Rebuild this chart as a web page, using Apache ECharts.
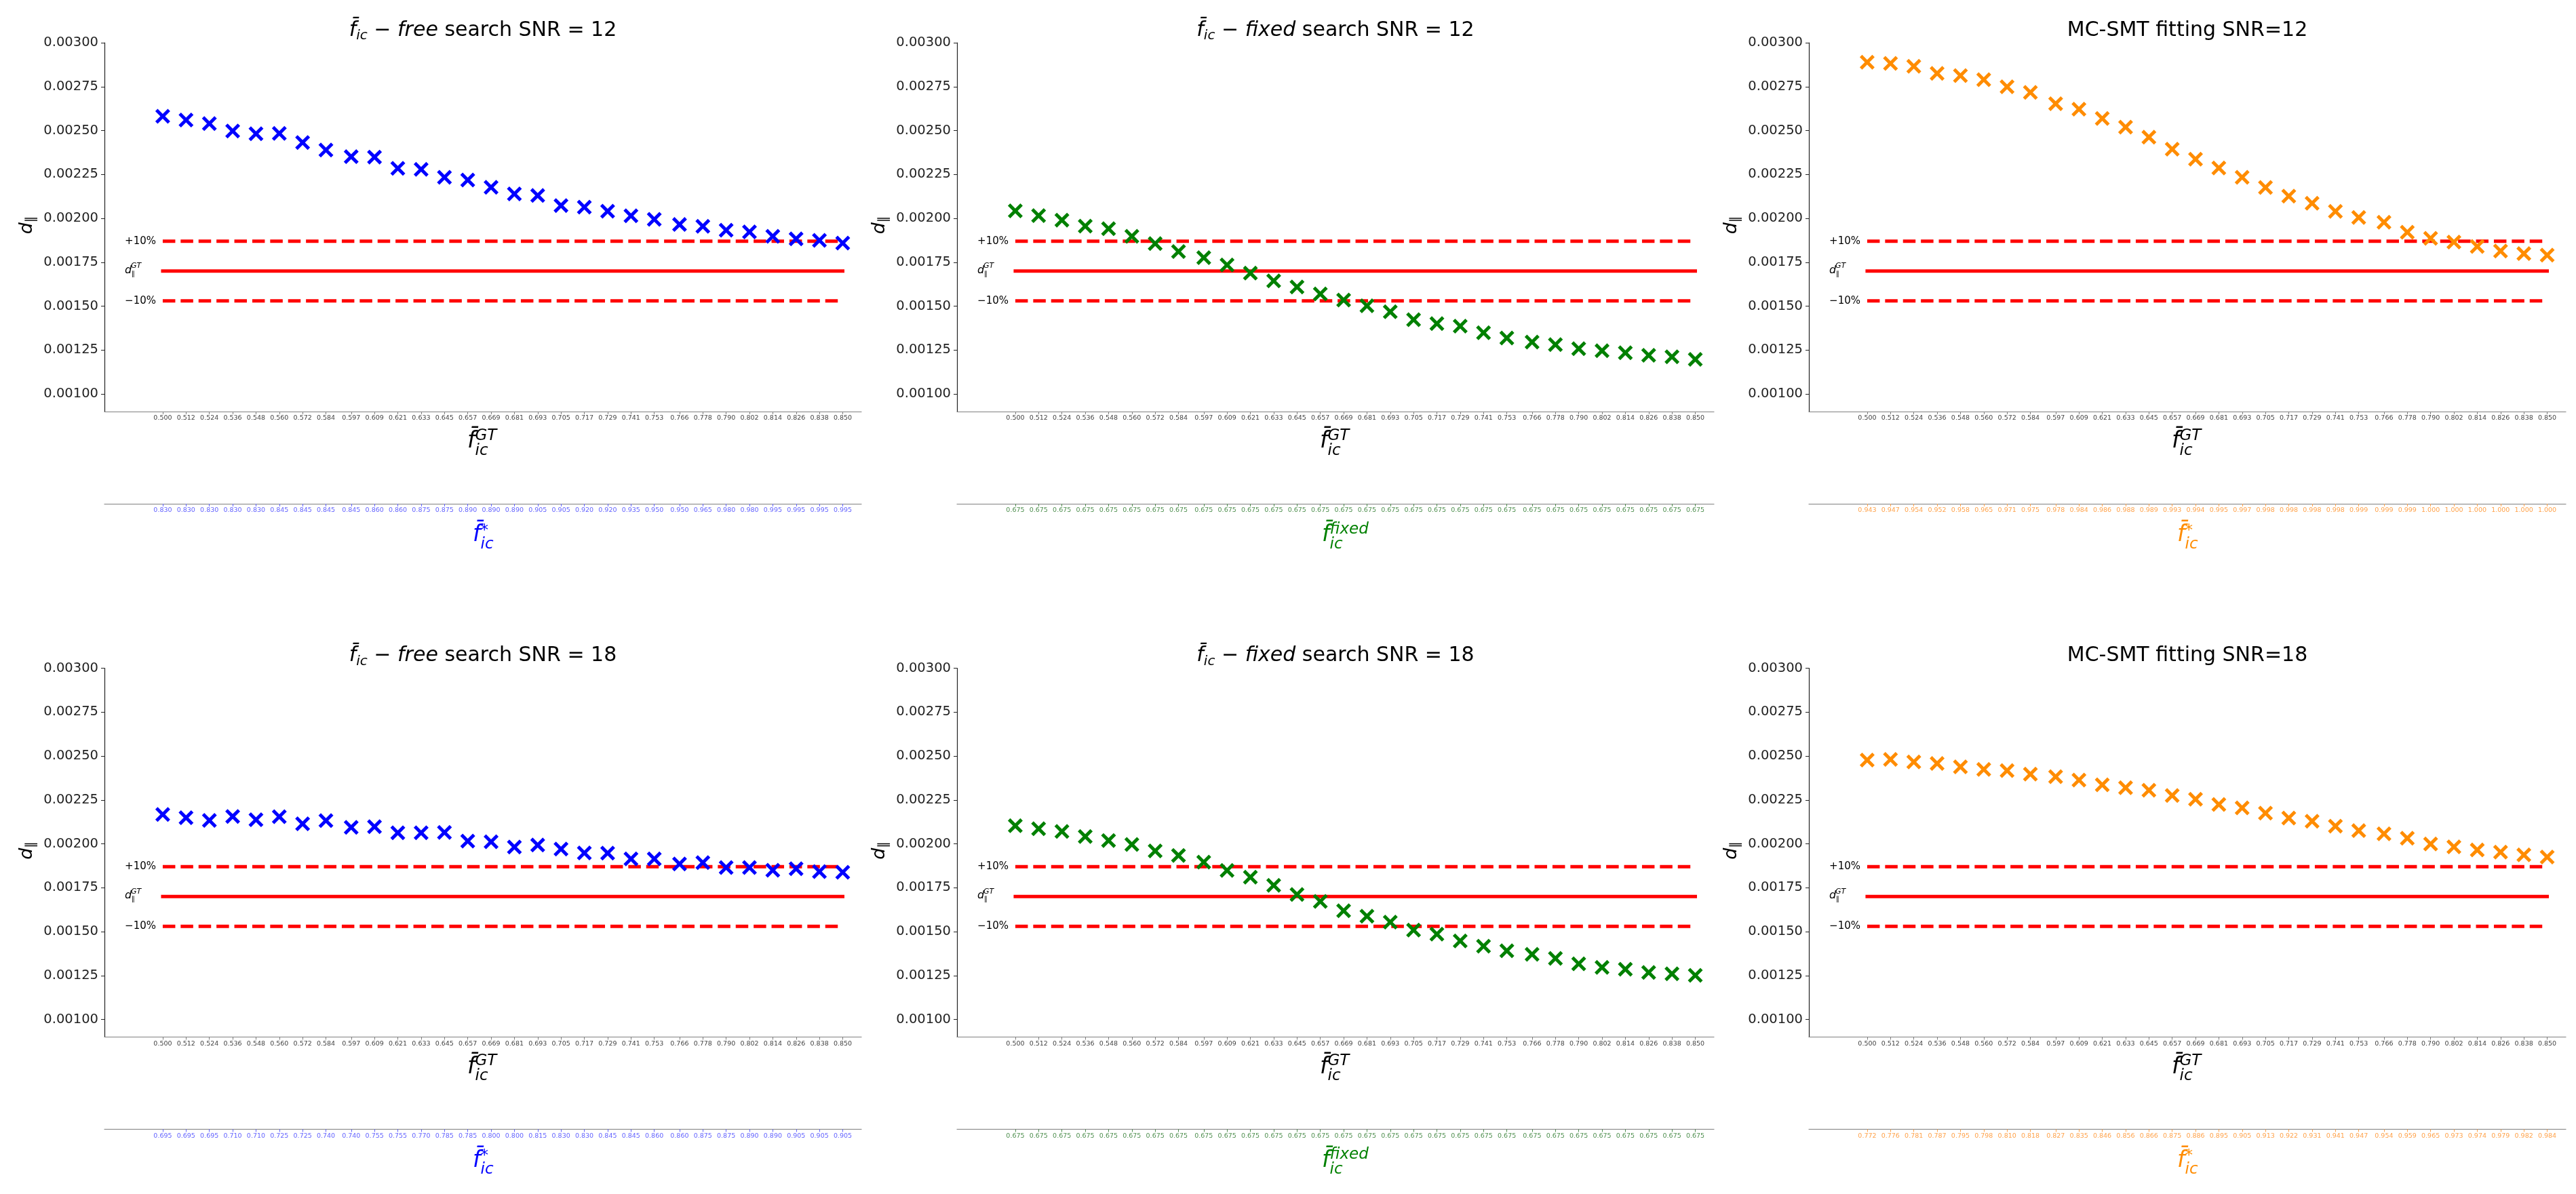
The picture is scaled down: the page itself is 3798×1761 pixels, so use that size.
<!DOCTYPE html>
<html>
<head>
<meta charset="utf-8">
<script src="https://cdn.jsdelivr.net/npm/echarts@6/dist/echarts.min.js"></script>
<style>
html, body { margin: 0; padding: 0; background: #fff; }
#main { width: 3798px; height: 1761px; }
</style>
</head>
<body>
<div id="main"></div>
<script>
// ground-truth f_ic values (primary x ticks)
var fGT = ['0.500','0.512','0.524','0.536','0.548','0.560','0.572','0.584','0.597','0.609','0.621','0.633','0.645','0.657','0.669','0.681','0.693','0.705','0.717','0.729','0.741','0.753','0.766','0.778','0.790','0.802','0.814','0.826','0.838','0.850'];

// secondary axis tick labels
var fStarFree12 = ['0.830','0.830','0.830','0.830','0.830','0.845','0.845','0.845','0.845','0.860','0.860','0.875','0.875','0.890','0.890','0.890','0.905','0.905','0.920','0.920','0.935','0.950','0.950','0.965','0.980','0.980','0.995','0.995','0.995','0.995'];
var fFixed12 = ['0.675','0.675','0.675','0.675','0.675','0.675','0.675','0.675','0.675','0.675','0.675','0.675','0.675','0.675','0.675','0.675','0.675','0.675','0.675','0.675','0.675','0.675','0.675','0.675','0.675','0.675','0.675','0.675','0.675','0.675'];
var fStarMC12 = ['0.943','0.947','0.954','0.952','0.958','0.965','0.971','0.975','0.978','0.984','0.986','0.988','0.989','0.993','0.994','0.995','0.997','0.998','0.998','0.998','0.998','0.999','0.999','0.999','1.000','1.000','1.000','1.000','1.000','1.000'];
var fStarFree18 = ['0.695','0.695','0.695','0.710','0.710','0.725','0.725','0.740','0.740','0.755','0.755','0.770','0.785','0.785','0.800','0.800','0.815','0.830','0.830','0.845','0.845','0.860','0.860','0.875','0.875','0.890','0.890','0.905','0.905','0.905'];
var fFixed18 = ['0.675','0.675','0.675','0.675','0.675','0.675','0.675','0.675','0.675','0.675','0.675','0.675','0.675','0.675','0.675','0.675','0.675','0.675','0.675','0.675','0.675','0.675','0.675','0.675','0.675','0.675','0.675','0.675','0.675','0.675'];
var fStarMC18 = ['0.772','0.776','0.781','0.787','0.795','0.798','0.810','0.818','0.827','0.835','0.846','0.856','0.866','0.875','0.886','0.895','0.905','0.913','0.922','0.931','0.941','0.947','0.954','0.959','0.965','0.973','0.974','0.979','0.982','0.984'];

// estimated d_par per panel
var dFree12 = [0.002581,0.002560,0.002540,0.002497,0.002482,0.002484,0.002432,0.002389,0.002351,0.002349,0.002285,0.002279,0.002234,0.002218,0.002177,0.002139,0.002130,0.002073,0.002064,0.002041,0.002015,0.001994,0.001965,0.001955,0.001933,0.001923,0.001898,0.001883,0.001875,0.001859];
var dFixed12 = [0.002043,0.002016,0.001990,0.001956,0.001941,0.001898,0.001856,0.001811,0.001776,0.001735,0.001688,0.001644,0.001609,0.001570,0.001535,0.001502,0.001468,0.001423,0.001401,0.001386,0.001349,0.001319,0.001296,0.001281,0.001258,0.001246,0.001235,0.001220,0.001212,0.001197];
var dMC12 = [0.002889,0.002882,0.002866,0.002825,0.002813,0.002790,0.002749,0.002717,0.002653,0.002622,0.002569,0.002519,0.002462,0.002394,0.002337,0.002287,0.002234,0.002176,0.002127,0.002086,0.002040,0.002005,0.001978,0.001921,0.001886,0.001865,0.001840,0.001814,0.001799,0.001791];
var dFree18 = [0.002167,0.002149,0.002133,0.002156,0.002137,0.002155,0.002114,0.002132,0.002094,0.002098,0.002063,0.002063,0.002065,0.002016,0.002012,0.001982,0.001993,0.001970,0.001948,0.001947,0.001914,0.001914,0.001885,0.001893,0.001865,0.001865,0.001850,0.001858,0.001842,0.001838];
var dFixed18 = [0.002103,0.002086,0.002071,0.002042,0.002019,0.001996,0.001960,0.001934,0.001896,0.001849,0.001810,0.001764,0.001712,0.001672,0.001619,0.001588,0.001554,0.001509,0.001486,0.001447,0.001417,0.001391,0.001371,0.001348,0.001317,0.001297,0.001286,0.001268,0.001260,0.001251];
var dMC18 = [0.002477,0.002481,0.002466,0.002458,0.002438,0.002424,0.002417,0.002397,0.002382,0.002363,0.002336,0.002320,0.002305,0.002275,0.002254,0.002224,0.002205,0.002175,0.002147,0.002129,0.002101,0.002075,0.002057,0.002032,0.001999,0.001983,0.001965,0.001953,0.001937,0.001925];

// d_GT +10%, d_GT, -10%
var refLevels = [0.00187, 0.0017, 0.00153];
var yTicks = [0.001, 0.00125, 0.0015, 0.00175, 0.002, 0.00225, 0.0025, 0.00275, 0.003];

var FONT = 'DejaVu Sans';
var colLeft = [154, 1411, 2667];
var rowTop = [63, 985.5];
var gridW = 1116, gridH = 544;
var xMin = 0.47, xMax = 0.8596, yMin = 0.0009, yMax = 0.003;
var labelX = 0.4805;
var XMARK = 'path://M0,16L16,0L50,34L84,0L100,16L66,50L100,84L84,100L50,66L16,100L0,84L34,50Z';

var panels = [
	{ title: '{m|f\u0304}{s|ic}{n| \u2212 }{m|free}{n| search SNR = 12}', d: dFree12, sec: fStarFree12, color: '#0000ff', light: '#6464ff', secSup: '*' },
	{ title: '{m|f\u0304}{s|ic}{n| \u2212 }{m|fixed}{n| search SNR = 12}', d: dFixed12, sec: fFixed12, color: '#008000', light: '#4f8f4f', secSup: 'fixed' },
	{ title: '{n|MC-SMT fitting SNR=12}', d: dMC12, sec: fStarMC12, color: '#ff8c00', light: '#ffa24a', secSup: '*' },
	{ title: '{m|f\u0304}{s|ic}{n| \u2212 }{m|free}{n| search SNR = 18}', d: dFree18, sec: fStarFree18, color: '#0000ff', light: '#6464ff', secSup: '*' },
	{ title: '{m|f\u0304}{s|ic}{n| \u2212 }{m|fixed}{n| search SNR = 18}', d: dFixed18, sec: fFixed18, color: '#008000', light: '#4f8f4f', secSup: 'fixed' },
	{ title: '{n|MC-SMT fitting SNR=18}', d: dMC18, sec: fStarMC18, color: '#ff8c00', light: '#ffa24a', secSup: '*' }
];

var xVals = fGT.map(parseFloat);

function tickIndex(v) {
	var best = 0;
	for (var i = 1; i < xVals.length; i++) {
		if (Math.abs(xVals[i] - v) < Math.abs(xVals[best] - v)) best = i;
	}
	return best;
}

// text placed by its baseline
function txt(x, baseline, str, size, italic, color, align) {
	return {
		type: 'text', x: x, y: baseline - 0.35 * size, silent: true, z: 20,
		style: {
			text: str, fontFamily: FONT, fontSize: size,
			fontStyle: italic ? 'italic' : 'normal', fill: color,
			align: align || 'left', verticalAlign: 'middle'
		}
	};
}

// f-bar with stacked super/subscript
function barF(left, baseline, sup, sub, color, F, Fs, raise, drop) {
	var adv = 0.35 * F;
	return [
		txt(left, baseline, 'f\u0304', F, true, color),
		txt(left + adv, baseline - raise, sup, Fs, true, color),
		txt(left + adv, baseline + drop, sub, Fs, true, color)
	];
}

var grids = [], xAxes = [], yAxes = [], series = [], graphics = [];

panels.forEach(function(p, g) {
	var row = Math.floor(g / 3), col = g % 3;
	var left = colLeft[col], top = rowTop[row];
	var cx = left + gridW / 2;

	grids.push({ left: left, top: top, width: gridW, height: gridH });

	xAxes.push({
		gridIndex: g, type: 'value', position: 'bottom', min: xMin, max: xMax,
		axisLine: { show: true, onZero: false, lineStyle: { color: '#7f7f7f', width: 1.2 } },
		axisTick: { show: true, customValues: xVals, length: 4, lineStyle: { color: '#7f7f7f' } },
		axisLabel: {
			customValues: xVals, margin: 5, fontSize: 9.5, fontFamily: FONT, color: '#444',
			formatter: function(v) { return fGT[tickIndex(v)]; }
		},
		splitLine: { show: false }
	});
	xAxes.push({
		gridIndex: g, type: 'value', position: 'bottom', offset: 136, min: xMin, max: xMax,
		axisLine: { show: true, onZero: false, lineStyle: { color: '#7f7f7f', width: 1.2 } },
		axisTick: { show: true, customValues: xVals, length: 4, lineStyle: { color: p.light } },
		axisLabel: {
			customValues: xVals, margin: 5, fontSize: 9.5, fontFamily: FONT, color: p.light,
			formatter: function(v) { return p.sec[tickIndex(v)]; }
		},
		splitLine: { show: false }
	});
	yAxes.push({
		gridIndex: g, type: 'value', min: yMin, max: yMax,
		axisLine: { show: true, lineStyle: { color: '#222', width: 1.2 } },
		axisTick: { show: true, customValues: yTicks, length: 5, lineStyle: { color: '#222' } },
		axisLabel: {
			customValues: yTicks, margin: 9, fontSize: 19.5, fontFamily: FONT, color: '#222',
			formatter: function(v) { return v.toFixed(5); }
		},
		splitLine: { show: false }
	});

	refLevels.forEach(function(lvl, k) {
		series.push({
			type: 'line', xAxisIndex: 2 * g, yAxisIndex: g, symbol: 'none', silent: true, z: 2,
			data: [[xVals[0], lvl], [xVals[xVals.length - 1], lvl]],
			lineStyle: {
				color: '#ff0000', width: 5,
				type: k == 1 ? 'solid' : [18.5, 7.9],
				cap: k == 1 ? 'square' : 'butt'
			}
		});
	});

	series.push({
		type: 'scatter', xAxisIndex: 2 * g, yAxisIndex: g, z: 5,
		symbol: XMARK, symbolSize: 22,
		itemStyle: { color: p.color, opacity: 1 },
		data: xVals.map(function(x, i) { return [x, p.d[i]]; })
	});

	// title
	graphics.push({
		type: 'text', x: cx, y: top - 18, silent: true, z: 20,
		style: {
			text: p.title, align: 'center', verticalAlign: 'middle', fill: '#000',
			rich: {
				m: { fontFamily: FONT, fontSize: 30, fontStyle: 'italic', lineHeight: 36, fill: '#000' },
				n: { fontFamily: FONT, fontSize: 30, lineHeight: 36, fill: '#000' },
				s: { fontFamily: FONT, fontSize: 20, fontStyle: 'italic', lineHeight: 20, verticalAlign: 'bottom', fill: '#000' }
			}
		}
	});

	// y label d_par
	graphics.push({
		type: 'text', x: left - 114, y: top + gridH / 2 - 3, rotation: Math.PI / 2, silent: true, z: 20,
		style: {
			text: '{d|d}{s|\u2225}', align: 'center', verticalAlign: 'middle',
			rich: {
				d: { fontFamily: FONT, fontSize: 27, fontStyle: 'italic', lineHeight: 32, fill: '#000' },
				s: { fontFamily: FONT, fontSize: 19, lineHeight: 19, verticalAlign: 'bottom', fill: '#000' }
			}
		}
	});

	// x labels
	var xb = top + gridH + 56;
	graphics = graphics.concat(barF(cx - 23, xb, 'GT', 'ic', '#000', 33, 23, 12, 10));
	var sb = top + gridH + 136 + 58;
	if (p.secSup == 'fixed') {
		graphics = graphics.concat(barF(cx - 20, sb, 'fixed', 'ic', p.color, 33, 23, 12, 10));
	} else {
		graphics = graphics.concat(barF(cx - 15, sb, '*', 'ic', p.color, 33, 23, 10, 10));
	}
});

var chart = echarts.init(document.getElementById('main'));
chart.setOption({
	animation: false,
	backgroundColor: '#ffffff',
	grid: grids,
	xAxis: xAxes,
	yAxis: yAxes,
	series: series
});

// reference line annotations placed through the axes
panels.forEach(function(p, g) {
	var pPlus = chart.convertToPixel({ gridIndex: g }, [labelX, refLevels[0]]);
	var pGT = chart.convertToPixel({ gridIndex: g }, [labelX, refLevels[1]]);
	var pMinus = chart.convertToPixel({ gridIndex: g }, [labelX, refLevels[2]]);
	graphics.push(txt(pPlus[0], pPlus[1] + 5.2, '+10%', 15, false, '#000'));
	graphics.push(txt(pMinus[0], pMinus[1] + 5.2, '\u221210%', 15, false, '#000'));
	graphics.push(txt(pGT[0], pGT[1] + 4.5, 'd', 16, true, '#000'));
	graphics.push(txt(pGT[0] + 9, pGT[1] - 3.5, 'GT', 11, true, '#000'));
	graphics.push(txt(pGT[0] + 10, pGT[1] + 8, '\u2225', 10, false, '#000'));
});

chart.setOption({ graphic: graphics });
</script>
</body>
</html>
